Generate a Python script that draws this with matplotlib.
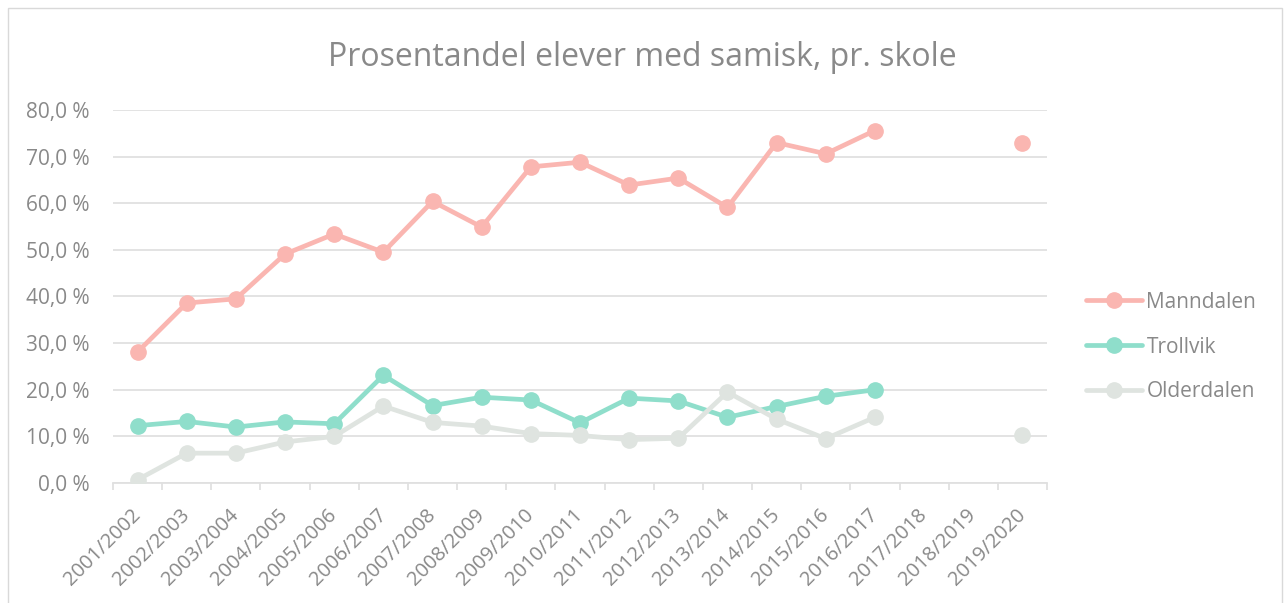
import numpy as np
import matplotlib

matplotlib.use("Agg")
import matplotlib.pyplot as plt
from matplotlib.patches import Rectangle
from matplotlib.ticker import FixedLocator, FuncFormatter

plt.rcParams["font.family"] = ["Open Sans", "DejaVu Sans"]

# data (percent)
school_years = [
    "2001/2002", "2002/2003", "2003/2004", "2004/2005", "2005/2006",
    "2006/2007", "2007/2008", "2008/2009", "2009/2010", "2010/2011",
    "2011/2012", "2012/2013", "2013/2014", "2014/2015", "2015/2016",
    "2016/2017", "2017/2018", "2018/2019", "2019/2020",
]
manndalen = [
    28.1, 38.6, 39.5, 49.1, 53.4, 49.5, 60.4, 54.9, 67.8, 68.8,
    63.9, 65.4, 59.1, 73.0, 70.6, 75.6, np.nan, np.nan, 72.9,
]
trollvik = [
    12.3, 13.2, 12.0, 13.1, 12.7, 23.1, 16.6, 18.4, 17.8, 12.9,
    18.2, 17.6, 14.1, 16.4, 18.6, 20.0, np.nan, np.nan, np.nan,
]
olderdalen = [
    0.7, 6.4, 6.4, 8.8, 10.0, 16.5, 13.0, 12.2, 10.6, 10.2,
    9.3, 9.6, 19.5, 13.7, 9.5, 14.1, np.nan, np.nan, 10.2,
]
series_names = ["Manndalen", "Trollvik", "Olderdalen"]
series_colors = ["#fab6b1", "#8fdecb", "#dfe4e0"]

text_color = "#898989"
grid_color = "#e0e0e0"

fig = plt.figure(figsize=(12.84, 6.03), dpi=100)
ax = fig.add_axes([0.0880, 0.1990, 0.7274, 0.6186])

x = np.arange(len(school_years))
for values, name, color in zip([manndalen, trollvik, olderdalen], series_names, series_colors):
    ax.plot(x, values, color=color, lw=3.4, marker="o", ms=11,
            label=name, solid_capstyle="round", solid_joinstyle="round", zorder=3)

ax.set_xlim(-0.5, len(school_years) - 0.5)
ax.set_ylim(0, 80)
ax.set_yticks(np.arange(0, 81, 10))
ax.yaxis.set_major_formatter(FuncFormatter(lambda v, p: f"{v:.1f}".replace(".", ",") + " %"))
ax.grid(axis="y", color=grid_color, lw=1.3, zorder=0)
ax.set_axisbelow(True)

ax.set_xticks(x)
ax.set_xticklabels(school_years, rotation=45, ha="right", va="center",
                   rotation_mode="anchor")
ax.xaxis.set_minor_locator(FixedLocator(np.arange(-0.5, len(school_years), 1.0)))
ax.tick_params(axis="x", which="major", length=0, pad=21, labelsize=14.5, labelcolor=text_color)
ax.tick_params(axis="x", which="minor", length=5, width=1.3, color=grid_color)
ax.tick_params(axis="y", length=0, pad=17, labelsize=15, labelcolor=text_color)

for side in ["top", "right", "left"]:
    ax.spines[side].set_visible(False)
ax.spines["bottom"].set_color(grid_color)
ax.spines["bottom"].set_linewidth(1.3)

fig.text(0.5, 0.905, "Prosentandel elever med samisk, pr. skole",
         ha="center", va="center", fontsize=23, color=text_color)

fig.legend(loc="center left", bbox_to_anchor=(0.8458, 0.4245), frameon=False,
           fontsize=15, labelcolor=text_color, handlelength=2.7, handletextpad=0.2,
           labelspacing=1.15, borderpad=0, borderaxespad=0)

# chart area border
fig.patches.append(Rectangle((8 / 1284, -0.02), 1274 / 1284, 1 - 8 / 603 + 0.02,
                             transform=fig.transFigure, fill=False,
                             edgecolor="#d9d9d9", lw=1.0))

fig.savefig("out.png", dpi=100)
